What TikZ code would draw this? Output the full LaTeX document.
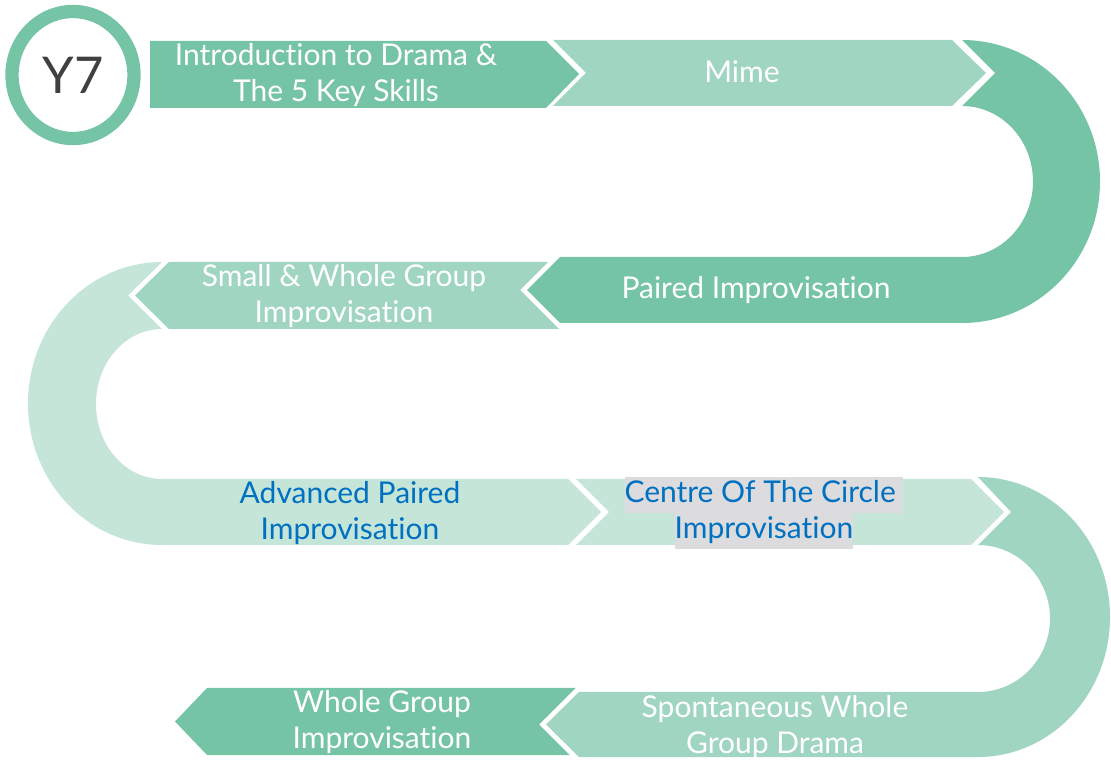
\documentclass[tikz,border=0pt]{standalone}
\usepackage{fontspec}
\setmainfont{Lato}[Ligatures=NoCommon]
\usetikzlibrary{positioning}
\definecolor{midgreen}{HTML}{76C4A6}
\definecolor{lightgreen}{HTML}{A0D5C1}
\definecolor{palegreen}{HTML}{C5E5D9}
\definecolor{topicblue}{HTML}{0070C0}
\definecolor{markgrey}{HTML}{DCDCDF}
\definecolor{yeargrey}{HTML}{404040}
\newcommand{\markline}[1]{\colorbox{markgrey}{\strut #1}}

\begin{document}
\begin{tikzpicture}[
    x=0.75pt, y=-0.75pt,
    topic/.style={text=white, align=center, inner sep=0pt,
        font=\fontsize{22.5}{27}\selectfont},
    bluetopic/.style={topic, text=topicblue},
    year/.style={text=yeargrey, font=\fontsize{38}{40}\selectfont}
]
\useasboundingbox (0,0) rectangle (1111,762);
\setlength{\fboxsep}{0pt}

% year badge
\draw[midgreen, line width=10pt] (73,75) ellipse [x radius=61, y radius=63.5];
\node (Year) [year] at (73,75) {Y7};

% first row
\fill[midgreen] (150,41) -- (546,41) -- (579,74) -- (546,108) -- (150,108) -- cycle;
\fill[lightgreen] (553,40) -- (952,40) -- (986,73) -- (952,106) -- (553,106) -- (586,73) -- cycle;

% right bend into the second row
\fill[midgreen] (962,40) arc[start angle=-90, end angle=90, x radius=138, y radius=141.5]
  -- (560,323) -- (527,290) -- (560,257) -- (962,257)
  arc[start angle=90, end angle=-90, x radius=71, y radius=75.5]
  -- (995,73) -- cycle;

% second row
\fill[lightgreen] (548,262) -- (169,262) -- (135,295.5) -- (169,329) -- (559,329)
  -- (520,290) -- cycle;

% left bend into the third row
\fill[palegreen] (162,262) arc[start angle=270, end angle=90, x radius=134, y radius=141.5]
  -- (568,545) -- (601,512) -- (568,479) -- (162,479)
  arc[start angle=90, end angle=270, x radius=66, y radius=75]
  -- (128,295.5) -- cycle;

% third row
\fill[palegreen] (576,479) -- (971,479) -- (1004,512) -- (971,545) -- (576,545)
  -- (609,512) -- cycle;

% right bend into the last row
\fill[lightgreen] (978,477) arc[start angle=-90, end angle=90, x radius=132, y radius=140]
  -- (579,757) -- (546,724.5) -- (579,692) -- (978,692)
  arc[start angle=90, end angle=-90, x radius=72, y radius=73.5]
  -- (1011,512) -- cycle;

% last row
\fill[midgreen] (575.5,688) -- (207,688) -- (175,721.5) -- (207,755) -- (569.5,755)
  -- (539,724.5) -- cycle;

\node (Intro) [topic] at (336,75) {Introduction to Drama \&\\The 5 Key Skills};
\node (Mime) [topic] at (742,72) {Mime};
\node (Paired) [topic] at (756,290) {Paired Improvisation};
\node (SmallWhole) [topic] at (344,296) {Small \& Whole Group\\Improvisation};
\node (Advanced) [bluetopic] at (350,513) {Advanced Paired\\Improvisation};
\node (Centre) [bluetopic] at (764,513) {\markline{Centre Of The Circle\ }\\\markline{Improvisation}};
\node (Spontaneous) [topic] at (775,727) {Spontaneous Whole\\Group Drama};
\node (WholeGroup) [topic] at (382,722) {Whole Group\\Improvisation};

\end{tikzpicture}
\end{document}
